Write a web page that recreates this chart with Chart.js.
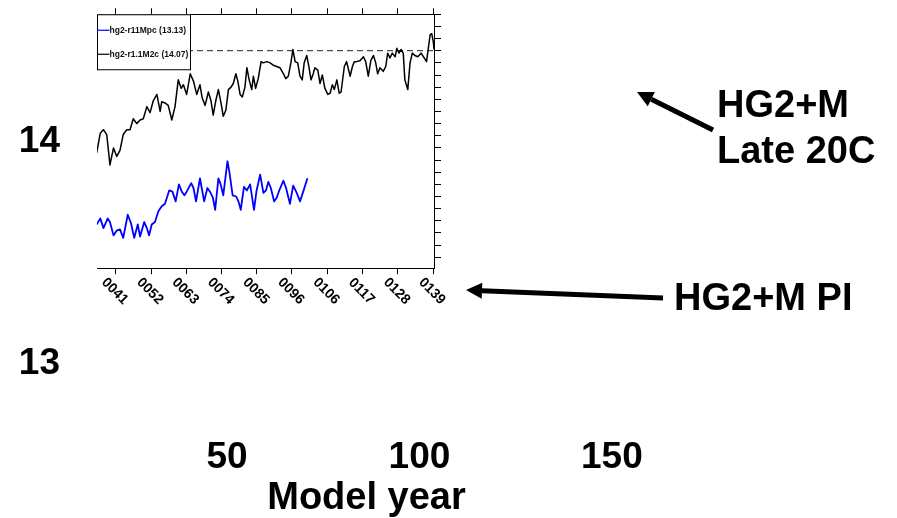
<!DOCTYPE html>
<html>
<head>
<meta charset="utf-8">
<script src="https://cdn.jsdelivr.net/npm/chart.js@4"></script>
<style>
  html, body { margin: 0; padding: 0; background: #fff; }
  #wrap { position: relative; width: 897px; height: 518px; }
  #wrap canvas { position: absolute; left: 0; top: 0; }
</style>
</head>
<body>
<div id="wrap">
  <canvas id="outer" width="897" height="518" style="width:897px;height:518px"></canvas>
  <canvas id="inner" width="897" height="518" style="width:897px;height:518px"></canvas>
</div>
<script>
// inset series (model year, global mean temperature)
const seriesLabels = ['hg2-r11Mpc (13.13)', 'hg2-r1.1M2c (14.07)']

const blueYears = [35.1, 36.2, 37.2, 38.5, 39.2, 40.3, 41.3, 42.3, 43.3, 44.7, 45.7, 46.7, 47.8, 48.5, 49.8,
  50.6, 51.3, 52.1, 53.1, 54.2, 55.2, 56.2, 57.5, 58.5, 59.5, 60.5, 61.4, 62.2, 62.9, 64.3, 65.0, 65.8,
  67.0, 68.3, 69.3, 70.1, 71.0, 71.7, 72.7, 73.4, 74.2, 75.5, 76.1, 77.1, 78.2, 78.9, 79.6, 80.6, 81.5,
  82.5, 83.7, 84.5, 85.6, 86.6, 87.4, 88.1, 88.9, 89.9, 90.7, 91.5, 92.8, 93.6, 94.8, 95.8, 96.9, 97.9,
  98.9, 100.2]
const blueTemps = [12.87, 12.92, 12.84, 12.92, 12.89, 12.78, 12.82, 12.83, 12.76, 12.95, 12.88, 12.76, 12.87, 12.77, 12.89,
  12.84, 12.78, 12.87, 12.89, 12.98, 13.02, 13.04, 13.15, 13.14, 13.06, 13.20, 13.14, 13.11, 13.14, 13.21, 13.17, 13.06,
  13.25, 13.06, 13.17, 13.14, 13.09, 12.99, 13.25, 13.20, 13.11, 13.39, 13.30, 13.11, 13.10, 13.06, 12.99, 13.18, 13.15,
  13.20, 12.99, 13.15, 13.28, 13.13, 13.15, 13.22, 13.17, 13.06, 13.09, 13.15, 13.23, 13.17, 13.04, 13.19, 13.13, 13.06,
  13.14, 13.25]

const blackYears = [35.1, 36.2, 37.2, 38.2, 39.2, 40.3, 41.3, 42.3, 43.3, 44.4, 45.4, 46.4, 47.5, 48.5, 49.5,
  50.6, 51.6, 52.6, 53.7, 54.7, 55.2, 56.2, 57.2, 58.3, 59.3, 60.3, 61.2, 61.9, 62.9, 64.0, 65.0, 66.0,
  67.0, 67.7, 68.6, 69.6, 70.4, 71.1, 71.9, 72.7, 73.5, 74.2, 75.0, 75.8, 76.6, 77.3, 78.1, 78.7, 79.4,
  80.1, 80.9, 81.5, 82.2, 83.0, 83.5, 84.2, 85.0, 85.9, 86.6, 87.6, 88.7, 89.7, 90.7, 91.7, 92.8, 93.5,
  94.3, 95.1, 95.7, 96.4, 97.2, 97.9, 98.6, 99.2, 100.0, 100.7, 101.3, 102.0, 102.5, 103.4, 104.1, 104.8,
  105.6, 106.5, 107.2, 107.9, 108.5, 109.3, 110.0, 110.6, 111.6, 112.3, 113.4, 114.1, 114.7, 115.4, 116.5,
  117.5, 118.2, 119.0, 119.8, 120.6, 121.3, 121.9, 122.6, 123.6, 124.4, 125.0, 125.7, 126.4, 127.3, 127.8,
  128.5, 129.1, 129.8, 130.3, 131.2, 131.9, 132.6, 133.4, 134.3, 135.3, 136.3, 137.0, 137.5, 138.1, 138.6,
  139.1, 139.3]
const blackTemps = [13.46, 13.62, 13.65, 13.61, 13.36, 13.50, 13.43, 13.48, 13.61, 13.65, 13.65, 13.74, 13.70, 13.73, 13.74,
  13.84, 13.79, 13.89, 13.94, 13.80, 13.88, 13.87, 13.85, 13.73, 13.84, 14.06, 13.99, 14.02, 13.94, 14.11, 14.05, 13.94,
  14.02, 13.91, 13.85, 13.96, 13.89, 13.77, 13.89, 13.98, 13.87, 13.76, 13.81, 13.98, 14.00, 14.03, 14.11, 14.05, 13.94,
  13.92, 14.00, 14.16, 14.06, 13.98, 14.09, 13.99, 14.07, 14.21, 14.20, 14.21, 14.20, 14.18, 14.17, 14.16, 14.11, 14.07,
  14.09, 14.20, 14.31, 14.21, 14.20, 14.09, 14.06, 14.20, 14.26, 14.16, 14.06, 14.11, 14.16, 14.14, 14.03, 14.10,
  13.99, 13.94, 13.95, 14.02, 13.98, 14.06, 13.95, 13.96, 14.17, 14.21, 14.09, 14.17, 14.21, 14.21, 14.22,
  14.25, 14.21, 14.09, 14.22, 14.26, 14.20, 14.11, 14.16, 14.13, 14.17, 14.28, 14.24, 14.28, 14.25, 14.32,
  14.28, 14.31, 14.28, 14.06, 13.98, 14.20, 14.28, 14.26, 14.25, 14.28, 14.24, 14.21, 14.31, 14.43, 14.44,
  14.37, 14.31]

const refLevel = 14.3
const innerXTickValues = [41, 51.9, 62.8, 73.7, 84.6, 95.4, 106.3, 117.2, 128.1, 139]
const innerXTickLabels = ['0041', '0052', '0063', '0074', '0085', '0096', '0106', '0117', '0128', '0139']
const innerXRange = [35.2, 139.3]
const innerYRange = [12.51, 14.6]

// outer slide axes
const outerXRange = [10, 162.5]
const outerXTicks = [50, 100, 150]
const outerYRange = [12.7135, 14.6135]
const outerYTicks = [13, 14]

const bold = (size) => ({ family: '"Liberation Sans", Arial, Helvetica, sans-serif', weight: 'bold', size })
const noPad = (s) => { s.paddingTop = 0; s.paddingBottom = 0; s.paddingLeft = 0; s.paddingRight = 0 }

// Arrows and captions on the slide
const annotate = {
  id: 'annotate',
  afterDraw(chart) {
    const ctx = chart.ctx
    ctx.save()
    ctx.fillStyle = '#000'
    ctx.strokeStyle = '#000'
    ctx.font = 'bold 38px "Liberation Sans", Arial, sans-serif'
    ctx.textBaseline = 'alphabetic'
    ctx.textAlign = 'left'
    ctx.fillText('HG2+M', 717, 117)
    ctx.fillText('Late 20C', 717, 163)
    ctx.fillText('HG2+M PI', 674, 310)

    const arrow = (x1, y1, x2, y2) => {
      const a = Math.atan2(y2 - y1, x2 - x1)
      const head = 16, hw = 8
      const bx = x2 - head * Math.cos(a), by = y2 - head * Math.sin(a)
      ctx.lineWidth = 5
      ctx.beginPath()
      ctx.moveTo(x1, y1)
      ctx.lineTo(bx, by)
      ctx.stroke()
      ctx.beginPath()
      ctx.moveTo(x2, y2)
      ctx.lineTo(bx + hw * Math.sin(a), by - hw * Math.cos(a))
      ctx.lineTo(bx - hw * Math.sin(a), by + hw * Math.cos(a))
      ctx.closePath()
      ctx.fill()
    }
    arrow(713, 130, 637, 92)
    arrow(663, 298, 466, 290)
    ctx.restore()
  }
}

new Chart(document.getElementById('outer'), {
  type: 'scatter',
  data: { datasets: [] },
  options: {
    responsive: false,
    animation: false,
    layout: { padding: { top: 6, right: 897 - 660, bottom: 0, left: 0 } },
    plugins: { legend: { display: false }, tooltip: { enabled: false } },
    scales: {
      x: {
        type: 'linear', min: outerXRange[0], max: outerXRange[1],
        afterFit: (s) => { s.height = 90.4; noPad(s) },
        afterBuildTicks: (s) => { s.ticks = outerXTicks.map((value) => ({ value })) },
        grid: { display: false }, border: { display: false },
        ticks: { padding: 0, maxRotation: 0, autoSkip: false, color: '#000', font: bold(37) },
        title: { display: true, text: 'Model year', color: '#000', font: bold(38), padding: { top: 0, bottom: -3 } }
      },
      y: {
        type: 'linear', min: outerYRange[0], max: outerYRange[1],
        afterFit: (s) => { s.width = 73; noPad(s) },
        afterBuildTicks: (s) => { s.ticks = outerYTicks.map((value) => ({ value })) },
        grid: { display: false }, border: { display: false },
        ticks: { padding: 5, color: '#000', font: bold(37) }
      }
    }
  },
  plugins: [annotate]
})

// Legend box and slanted year labels of the inset
const insetDecor = {
  id: 'insetDecor',
  afterDraw(chart) {
    const ctx = chart.ctx
    const area = chart.chartArea
    ctx.save()
    // year labels
    const xs = chart.scales.x
    ctx.fillStyle = '#000'
    ctx.font = 'bold 14px "Liberation Sans", Arial, sans-serif'
    ctx.textAlign = 'center'
    ctx.textBaseline = 'middle'
    innerXTickValues.forEach((v, i) => {
      ctx.save()
      ctx.translate(xs.getPixelForValue(v) - 1, area.bottom + 23)
      ctx.rotate(Math.PI / 4)
      ctx.fillText(innerXTickLabels[i], 0, 0)
      ctx.restore()
    })

    // legend
    const lx = area.left, ly = area.top, lw = 93, lh = 55
    ctx.fillStyle = '#fff'
    ctx.fillRect(lx, ly, lw, lh)
    ctx.strokeStyle = '#000'
    ctx.lineWidth = 1
    ctx.strokeRect(lx + 0.5, ly + 0.5, lw, lh)
    ctx.font = 'bold 8.5px "Liberation Sans", Arial, sans-serif'
    ctx.textAlign = 'left'
    chart.data.datasets.slice(0, 2).forEach((ds, i) => {
      const y = ly + 16 + i * 24
      ctx.strokeStyle = ds.borderColor
      ctx.lineWidth = 1.2
      ctx.beginPath()
      ctx.moveTo(lx, y)
      ctx.lineTo(lx + 12.5, y)
      ctx.stroke()
      ctx.fillStyle = '#111'
      ctx.fillText(ds.label, lx + 12.5, y)
    })
    ctx.restore()
  }
}

const toPoints = (xs, ys) => xs.map((x, i) => ({ x, y: ys[i] }))
const frameAxis = (position, size) => ({
  type: 'linear', position,
  min: innerXRange[0], max: innerXRange[1],
  afterFit: (s) => { s.height = size; noPad(s) },
  afterBuildTicks: (s) => { s.ticks = innerXTickValues.map((value) => ({ value })) },
  ticks: { display: false },
  grid: { drawOnChartArea: false, tickLength: 6, color: '#000', lineWidth: 1 },
  border: { color: '#000', width: 1 }
})

new Chart(document.getElementById('inner'), {
  type: 'scatter',
  data: {
    datasets: [
      { label: seriesLabels[0], data: toPoints(blueYears, blueTemps), borderColor: '#0000ff', borderWidth: 1.8 },
      { label: seriesLabels[1], data: toPoints(blackYears, blackTemps), borderColor: '#000', borderWidth: 1.5 },
      { label: 'ref', data: toPoints(innerXRange, [refLevel, refLevel]), borderColor: '#222', borderWidth: 1, borderDash: [6, 4] }
    ]
  },
  options: {
    responsive: false,
    animation: false,
    showLine: true,
    elements: { point: { radius: 0 }, line: { tension: 0, borderJoinStyle: 'round' } },
    layout: { padding: { left: 97, top: 4.25, right: 453, bottom: 219.8 } },
    plugins: { legend: { display: false }, tooltip: { enabled: false } },
    scales: {
      x: frameAxis('bottom', 30),
      x2: frameAxis('top', 10),
      y: {
        type: 'linear', position: 'right',
        min: innerYRange[0], max: innerYRange[1],
        afterFit: (s) => { s.width = 10; noPad(s) },
        ticks: { display: false, stepSize: 0.1, includeBounds: false },
        grid: { drawOnChartArea: false, tickLength: 7, color: '#000', lineWidth: 1 },
        border: { color: '#000', width: 1 }
      }
    }
  },
  plugins: [insetDecor]
})
</script>
</body>
</html>
